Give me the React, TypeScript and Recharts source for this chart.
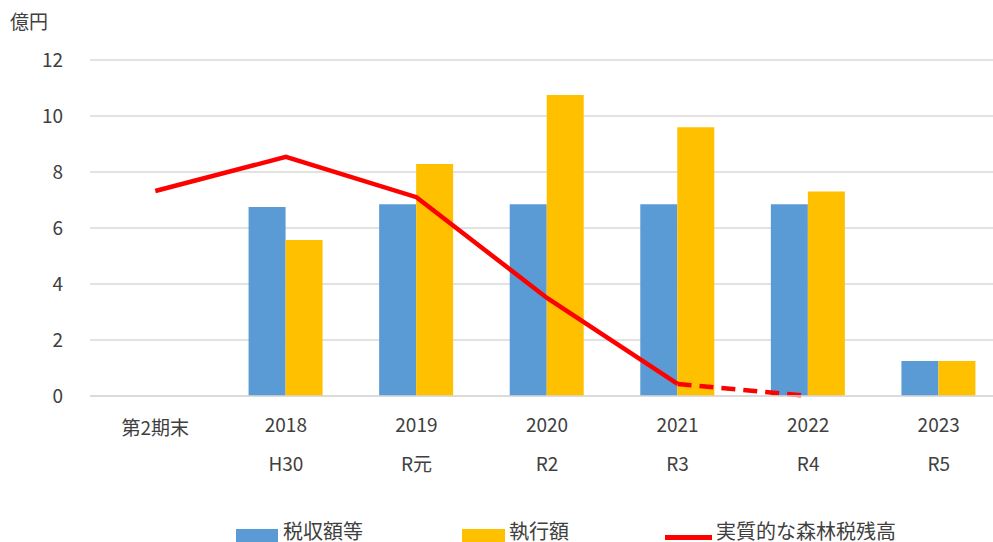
import React from "react";
import { ComposedChart, Bar, Line, XAxis, YAxis, CartesianGrid, Legend } from "recharts";

const categories = ["第2期末", "2018", "2019", "2020", "2021", "2022", "2023"];
const eraLabels = ["", "H30", "R元", "R2", "R3", "R4", "R5"];
const taxRevenue = [null, 6.75, 6.85, 6.85, 6.85, 6.85, 1.25];
const execution = [null, 5.57, 8.29, 10.75, 9.6, 7.3, 1.25];
const balanceSolid = [7.32, 8.54, 7.1, 3.5, 0.43, null, null];
const balanceDashed = [null, null, null, null, 0.43, 0, null];
const yTicks = [0, 2, 4, 6, 8, 10, 12];

const data = categories.map((c, i) => ({
  name: c,
  era: eraLabels[i],
  tax: taxRevenue[i],
  exec: execution[i],
  solid: balanceSolid[i],
  dashed: balanceDashed[i],
}));

const FONT = "'Noto Sans CJK JP', 'Noto Sans', sans-serif";
const TEXT = "#404040";

const XTick = (props: any) => {
  const { x, y, payload, index } = props;
  const era = eraLabels[index] ?? "";
  if (!era) {
    return (
      <text x={x} y={y + 39} textAnchor="middle" fill={TEXT} fontSize={19} fontFamily={FONT}>
        {payload.value}
      </text>
    );
  }
  return (
    <g>
      <text x={x} y={y + 36} textAnchor="middle" fill={TEXT} fontSize={19} fontFamily={FONT}>
        {payload.value}
      </text>
      <text x={x} y={y + 75} textAnchor="middle" fill={TEXT} fontSize={19} fontFamily={FONT}>
        {era}
      </text>
    </g>
  );
};

const LegendContent = () => (
  <div style={{ position: "relative", height: 30, fontFamily: FONT, fontSize: 20, color: TEXT }}>
    <div style={{ position: "absolute", left: 236, top: 10, width: 42, height: 14, background: "#5b9bd5" }} />
    <div style={{ position: "absolute", left: 283, top: 0, lineHeight: "24px", whiteSpace: "nowrap" }}>税収額等</div>
    <div style={{ position: "absolute", left: 462, top: 10, width: 43, height: 14, background: "#ffc000" }} />
    <div style={{ position: "absolute", left: 509, top: 0, lineHeight: "24px", whiteSpace: "nowrap" }}>執行額</div>
    <div style={{ position: "absolute", left: 665, top: 16, width: 47, height: 5, background: "#ff0000" }} />
    <div style={{ position: "absolute", left: 716, top: 0, lineHeight: "24px", whiteSpace: "nowrap" }}>実質的な森林税残高</div>
  </div>
);

export default function App() {
  return (
    <div style={{ position: "absolute", left: 0, top: 0, width: 993, height: 542, overflow: "hidden", background: "#fff" }}>
      <div style={{ position: "absolute", left: 10, top: 8, fontFamily: FONT, fontSize: 19, color: TEXT, lineHeight: "26px" }}>
        億円
      </div>
      <ComposedChart
        width={1010}
        height={560}
        data={data}
        margin={{ top: 60, right: 6, bottom: 0, left: 0 }}
        barGap={0}
      >
        <CartesianGrid vertical={false} stroke="#d9d9d9" strokeWidth={1.5} />
        <XAxis
          dataKey="name"
          height={164}
          tickLine={false}
          tickSize={0}
          tickMargin={0}
          axisLine={{ stroke: "#d9d9d9", strokeWidth: 1.5 }}
          tick={<XTick />}
          interval={0}
        />
        <YAxis
          width={90}
          domain={[0, 12]}
          ticks={yTicks}
          axisLine={false}
          tickLine={false}
          tickSize={0}
          tickMargin={27}
          tick={{ fill: TEXT, fontSize: 19, fontFamily: FONT }}
        />
        <Legend
          layout="vertical"
          align="center"
          verticalAlign="middle"
          wrapperStyle={{ top: 519, left: 0, width: 1010 }}
          content={<LegendContent />}
        />
        <Bar dataKey="tax" fill="#5b9bd5" barSize={37} isAnimationActive={false} />
        <Bar dataKey="exec" fill="#ffc000" barSize={37} isAnimationActive={false} />
        <Line dataKey="solid" stroke="#ff0000" strokeWidth={4.5} dot={false} connectNulls={false} isAnimationActive={false} />
        <Line dataKey="dashed" stroke="#ff0000" strokeWidth={4.5} strokeDasharray="14 8" dot={false} connectNulls={false} isAnimationActive={false} />
      </ComposedChart>
    </div>
  );
}
